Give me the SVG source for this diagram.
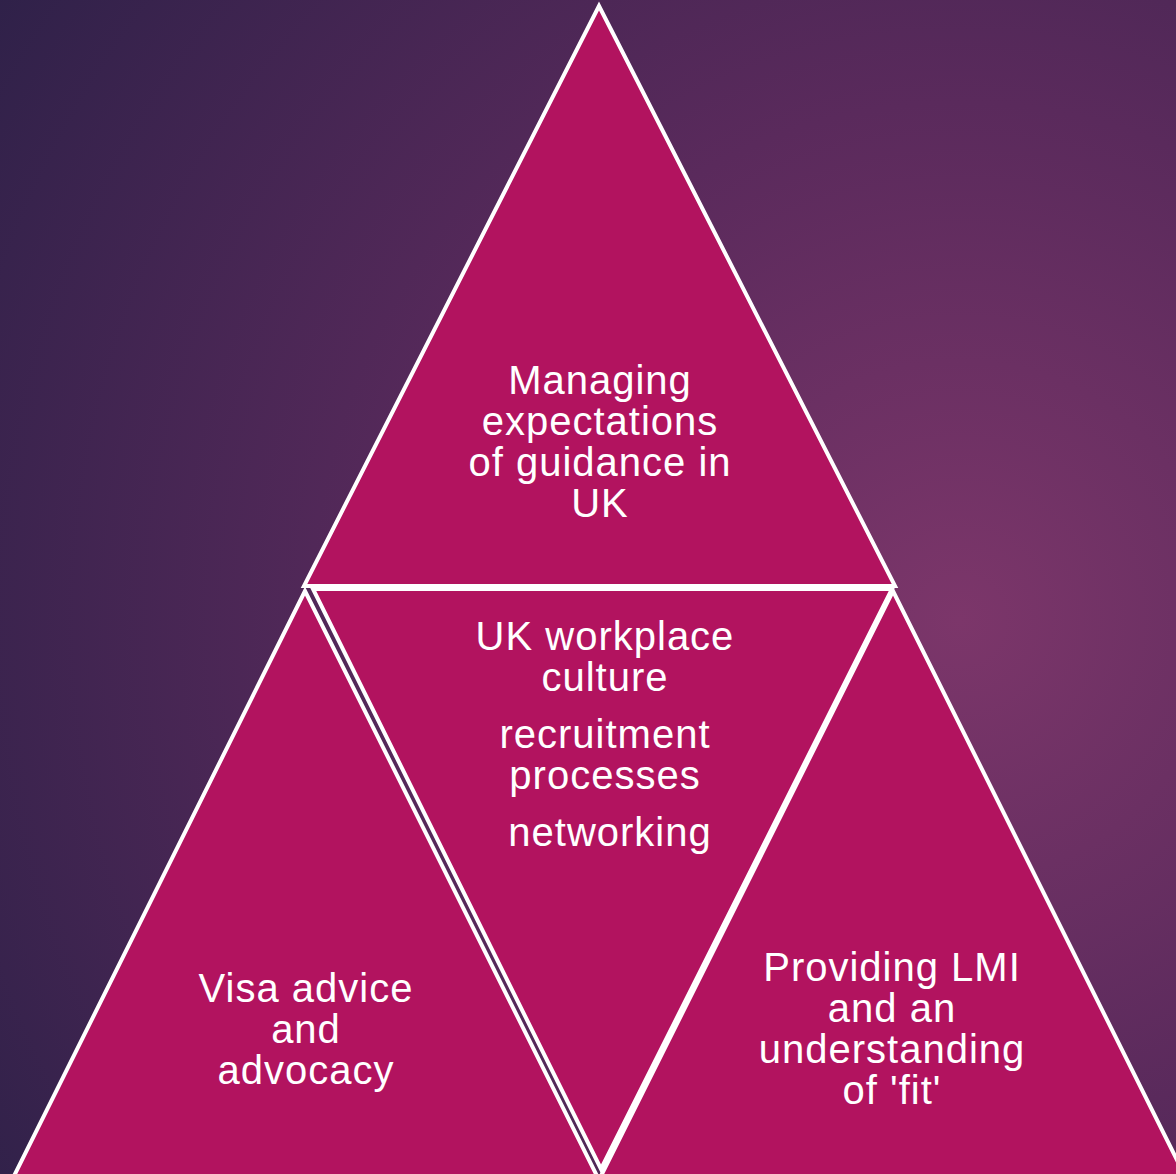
<svg xmlns="http://www.w3.org/2000/svg" width="1176" height="1174" viewBox="0 0 1176 1174">
  <defs>
    <radialGradient id="bg" cx="960" cy="620" r="1150" gradientUnits="userSpaceOnUse">
      <stop offset="0" stop-color="#7c366a"/>
      <stop offset="0.45" stop-color="#5a2a5c"/>
      <stop offset="1" stop-color="#2f2149"/>
    </radialGradient>
  </defs>
  <style>
    .tri { fill: #b2135f; stroke: #ffffff; stroke-width: 4; stroke-linejoin: miter; }
    .lbl { fill: #ffffff; font-family: "Liberation Sans", Arial, sans-serif; font-size: 40px; letter-spacing: 1px; text-anchor: middle; }
  </style>
  <rect width="1176" height="1174" fill="url(#bg)"/>
  <g id="node-top">
    <polygon class="tri" points="599,6 304,586 895,586"/>
    <text class="lbl" x="600" y="394">Managing</text>
    <text class="lbl" x="600" y="435">expectations</text>
    <text class="lbl" x="600" y="476">of guidance in</text>
    <text class="lbl" x="600" y="517">UK</text>
  </g>
  <g id="node-left">
    <polygon class="tri" points="305,591 13,1178 598,1178"/>
    <text class="lbl" x="306" y="1002">Visa advice</text>
    <text class="lbl" x="306" y="1043">and</text>
    <text class="lbl" x="306" y="1084">advocacy</text>
  </g>
  <g id="node-right">
    <polygon class="tri" points="893,591 600,1178 1186,1178"/>
    <text class="lbl" x="892" y="981">Providing LMI</text>
    <text class="lbl" x="892" y="1022">and an</text>
    <text class="lbl" x="892" y="1063">understanding</text>
    <text class="lbl" x="892" y="1104">of 'fit'</text>
  </g>
  <g id="node-center">
    <polygon class="tri" points="313,589 892,589 601,1169"/>
    <text class="lbl" x="605" y="650">UK workplace</text>
    <text class="lbl" x="605" y="691">culture</text>
    <text class="lbl" x="605" y="748">recruitment</text>
    <text class="lbl" x="605" y="789">processes</text>
    <text class="lbl" x="610" y="846">networking</text>
  </g>
  <g id="connectors"/>
</svg>
